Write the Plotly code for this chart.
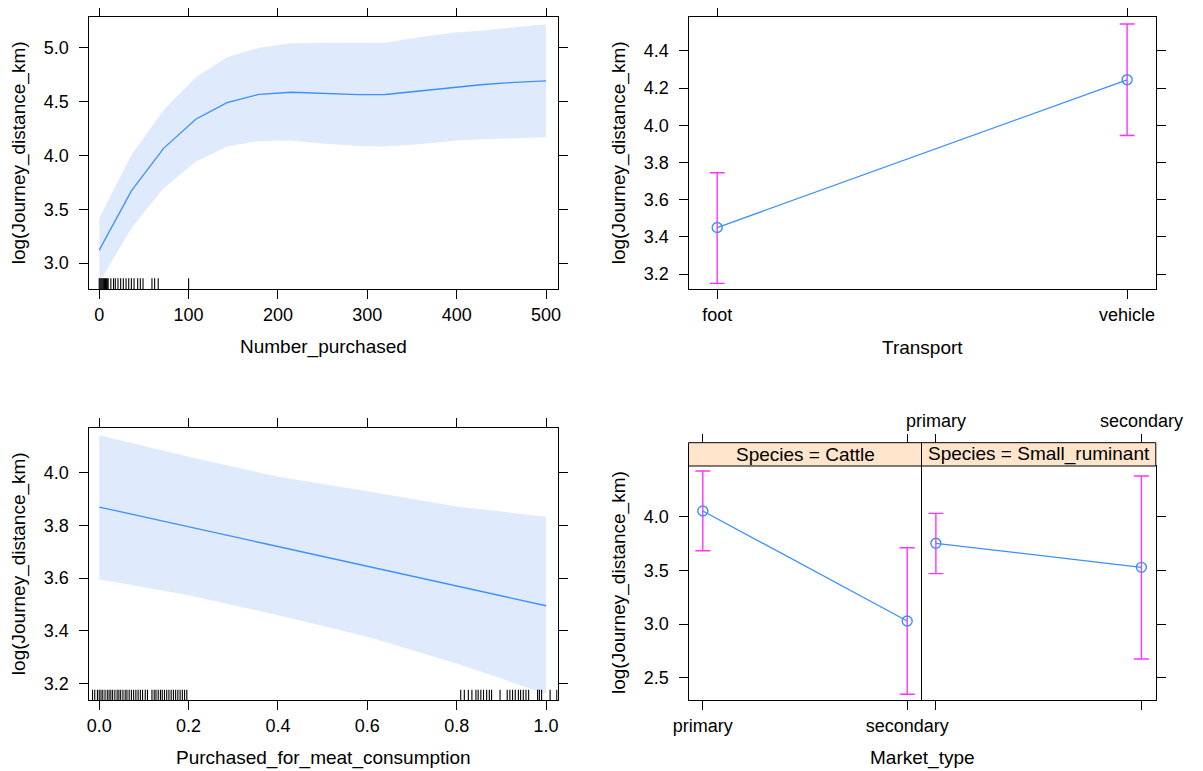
import plotly.graph_objects as go

# ---------------- data ----------------
# Panel 1: Number_purchased effect
num_x = [0, 36, 72, 108, 143, 179, 215, 250, 290, 320, 358, 400, 430, 465, 500]
num_fit = [3.12, 3.67, 4.065, 4.335, 4.49, 4.567, 4.586, 4.578, 4.563, 4.565, 4.598, 4.635, 4.658, 4.678, 4.692]
num_upper = [3.416, 4.004, 4.422, 4.725, 4.911, 5.0, 5.04, 5.04, 5.04, 5.046, 5.096, 5.143, 5.16, 5.19, 5.217]
num_lower = [2.82, 3.323, 3.695, 3.941, 4.081, 4.134, 4.137, 4.11, 4.087, 4.081, 4.103, 4.137, 4.15, 4.16, 4.168]
num_rug = [0, 1, 2, 3, 4, 5, 6, 7, 8, 9, 10, 13, 16, 18, 21, 24, 27, 30, 33, 36, 39, 43, 46, 49, 59, 62, 66, 100]
num_ticks = [0, 100, 200, 300, 400, 500]
num_yticks = [3.0, 3.5, 4.0, 4.5, 5.0]

# Panel 2: Transport effect
transport_levels = ["foot", "vehicle"]
transport_fit = [3.45, 4.245]
transport_lower = [3.15, 3.945]
transport_upper = [3.745, 4.545]
transport_yticks = [3.2, 3.4, 3.6, 3.8, 4.0, 4.2, 4.4]

# Panel 3: Purchased_for_meat_consumption effect
meat_x = [0.0, 0.2, 0.4, 0.6, 0.8, 1.0]
meat_fit = [3.87, 3.795, 3.72, 3.645, 3.57, 3.495]
meat_upper = [4.143, 4.061, 3.985, 3.93, 3.872, 3.833]
meat_lower = [3.596, 3.535, 3.459, 3.377, 3.276, 3.16]
meat_rug = [-0.015, -0.01, -0.004, 0.0, 0.004, 0.008, 0.013, 0.018, 0.022, 0.026, 0.03, 0.035,
            0.04, 0.044, 0.048, 0.053, 0.058, 0.062, 0.067, 0.072, 0.077, 0.082, 0.087, 0.092,
            0.097, 0.103, 0.108, 0.118, 0.123, 0.127, 0.132, 0.137, 0.141, 0.146, 0.151, 0.156,
            0.161, 0.166, 0.171, 0.176, 0.181, 0.186, 0.191, 0.196,
            0.809, 0.817, 0.826, 0.834, 0.843, 0.848, 0.854, 0.860, 0.867, 0.873, 0.878, 0.897,
            0.913, 0.919, 0.925, 0.931, 0.938, 0.943, 0.949, 0.955, 0.961, 0.981, 0.985, 0.990,
            1.009, 1.024]
meat_ticks = [0.0, 0.2, 0.4, 0.6, 0.8, 1.0]
meat_yticks = [3.2, 3.4, 3.6, 3.8, 4.0]

# Panel 4: Market_type x Species
market_levels = ["primary", "secondary"]
species_levels = ["Cattle", "Small_ruminant"]
cattle_fit = [4.053, 3.028]
cattle_lower = [3.683, 2.345]
cattle_upper = [4.426, 3.711]
small_fit = [3.752, 3.528]
small_lower = [3.469, 2.674]
small_upper = [4.031, 4.379]
market_yticks = [2.5, 3.0, 3.5, 4.0]

# ---------------- style ----------------
OFFX, OFFY = 8, 8            # page body margin in the browser
W, H = 1203 - OFFX, 771 - OFFY
FONT = "Liberation Sans, Arial, Helvetica, sans-serif"
TICK_SIZE = 18
TITLE_SIZE = 19
LINE_COL = "#3a90ff"
ERR_COL = "#ff33ff"
BAND_COL = "#e0eafd"
STRIP_COL = "#ffe5cc"


def px_x(p):
    return (p - OFFX) / W


def px_y(p):
    return 1 - (p - OFFY) / H


# panel pixel boxes (screen pixels)
TL = dict(x0=88.5, x1=557.7, y0=17.3, y1=289.3)
TR = dict(x0=688.5, x1=1155.8, y0=17.3, y1=289.3)
BL = dict(x0=88.5, x1=557.7, y0=428.3, y1=700.0)
BR_L = dict(x0=688.5, x1=921.5, y0=466.0, y1=700.0)
BR_R = dict(x0=921.5, x1=1155.8, y0=466.0, y1=700.0)
STRIP_TOP = 442.7

fig = go.Figure()

# ---- panel 1 ----
fig.add_trace(go.Scatter(x=num_x, y=num_lower, mode="lines", line=dict(width=0),
                         xaxis="x", yaxis="y", showlegend=False, hoverinfo="skip"))
fig.add_trace(go.Scatter(x=num_x, y=num_upper, mode="lines", line=dict(width=0), fill="tonexty",
                         fillcolor=BAND_COL, xaxis="x", yaxis="y", showlegend=False, hoverinfo="skip"))
fig.add_trace(go.Scatter(x=num_x, y=num_fit, mode="lines", line=dict(color=LINE_COL, width=1.3),
                         xaxis="x", yaxis="y", showlegend=False))

# ---- panel 2 ----
t_idx = list(range(len(transport_levels)))
fig.add_trace(go.Scatter(
    x=t_idx, y=transport_fit, mode="markers", marker=dict(opacity=0),
    error_y=dict(type="data", symmetric=False,
                 array=[u - f for u, f in zip(transport_upper, transport_fit)],
                 arrayminus=[f - l for f, l in zip(transport_fit, transport_lower)],
                 color=ERR_COL, thickness=1.4, width=7.5),
    xaxis="x2", yaxis="y2", showlegend=False))
fig.add_trace(go.Scatter(x=t_idx, y=transport_fit, mode="lines+markers",
                         line=dict(color=LINE_COL, width=1.3),
                         marker=dict(symbol="circle-open", size=10, color=LINE_COL, line=dict(width=1.4)),
                         xaxis="x2", yaxis="y2", showlegend=False))

# ---- panel 3 ----
fig.add_trace(go.Scatter(x=meat_x, y=meat_lower, mode="lines", line=dict(width=0),
                         xaxis="x3", yaxis="y3", showlegend=False, hoverinfo="skip"))
fig.add_trace(go.Scatter(x=meat_x, y=meat_upper, mode="lines", line=dict(width=0), fill="tonexty",
                         fillcolor=BAND_COL, xaxis="x3", yaxis="y3", showlegend=False, hoverinfo="skip"))
fig.add_trace(go.Scatter(x=meat_x, y=meat_fit, mode="lines", line=dict(color=LINE_COL, width=1.3),
                         xaxis="x3", yaxis="y3", showlegend=False))

# ---- panel 4 ----
m_idx = list(range(len(market_levels)))
for fit, lo, up, xa, ya in [(cattle_fit, cattle_lower, cattle_upper, "x4", "y4"),
                            (small_fit, small_lower, small_upper, "x5", "y5")]:
    fig.add_trace(go.Scatter(
        x=m_idx, y=fit, mode="markers", marker=dict(opacity=0),
        error_y=dict(type="data", symmetric=False,
                     array=[u - f for u, f in zip(up, fit)],
                     arrayminus=[f - l for f, l in zip(fit, lo)],
                     color=ERR_COL, thickness=1.4, width=7.5),
        xaxis=xa, yaxis=ya, showlegend=False))
    fig.add_trace(go.Scatter(x=m_idx, y=fit, mode="lines+markers",
                             line=dict(color=LINE_COL, width=1.3),
                             marker=dict(symbol="circle-open", size=10, color=LINE_COL, line=dict(width=1.4)),
                             xaxis=xa, yaxis=ya, showlegend=False))
# dummy traces to activate the top (alternating) axes
fig.add_trace(go.Scatter(x=[None], y=[None], xaxis="x6", yaxis="y4", showlegend=False, hoverinfo="skip"))
fig.add_trace(go.Scatter(x=[None], y=[None], xaxis="x7", yaxis="y5", showlegend=False, hoverinfo="skip"))

# ---- axes ----
tickfont = dict(family=FONT, size=TICK_SIZE, color="black")
base = dict(showgrid=False, zeroline=False, showline=True, linecolor="black", linewidth=1,
            ticks="outside", ticklen=9, tickwidth=1, tickcolor="black", tickfont=tickfont,
            mirror="ticks", fixedrange=True, automargin=False)


def fmt(vals, nd=1):
    return [f"{v:.{nd}f}" for v in vals]


layout_axes = dict(
    xaxis=dict(base, domain=[px_x(TL["x0"]), px_x(TL["x1"])], range=[-12, 513], anchor="y",
               tickvals=num_ticks, ticktext=[str(v) for v in num_ticks]),
    yaxis=dict(base, domain=[px_y(TL["y1"]), px_y(TL["y0"])], range=[2.756, 5.282], anchor="x",
               tickvals=num_yticks, ticktext=fmt(num_yticks), ticklabelstandoff=6),
    xaxis2=dict(base, domain=[px_x(TR["x0"]), px_x(TR["x1"])], range=[-0.07, 1.07], anchor="y2",
                tickvals=t_idx, ticktext=transport_levels),
    yaxis2=dict(base, domain=[px_y(TR["y1"]), px_y(TR["y0"])], range=[3.118, 4.581], anchor="x2",
                tickvals=transport_yticks, ticktext=fmt(transport_yticks), ticklabelstandoff=6),
    xaxis3=dict(base, domain=[px_x(BL["x0"]), px_x(BL["x1"])], range=[-0.024, 1.026], anchor="y3",
                tickvals=meat_ticks, ticktext=fmt(meat_ticks)),
    yaxis3=dict(base, domain=[px_y(BL["y1"]), px_y(BL["y0"])], range=[3.137, 4.169], anchor="x3",
                tickvals=meat_yticks, ticktext=fmt(meat_yticks), ticklabelstandoff=6),
    xaxis4=dict(base, domain=[px_x(BR_L["x0"]), px_x(BR_L["x1"])], range=[-0.07, 1.07], anchor="y4",
                tickvals=m_idx, ticktext=market_levels, mirror=True),
    yaxis4=dict(base, domain=[px_y(BR_L["y1"]), px_y(BR_L["y0"])], range=[2.292, 4.472], anchor="x4",
                tickvals=market_yticks, ticktext=fmt(market_yticks), mirror=False, ticklabelstandoff=6),
    xaxis5=dict(base, domain=[px_x(BR_R["x0"]), px_x(BR_R["x1"])], range=[-0.07, 1.07], anchor="y5",
                tickvals=m_idx, showticklabels=False, mirror=True),
    yaxis5=dict(base, domain=[px_y(BR_R["y1"]), px_y(BR_R["y0"])], range=[2.292, 4.472], anchor="x5",
                side="right", tickvals=market_yticks, showticklabels=False, mirror=True),
    xaxis6=dict(base, domain=[px_x(BR_L["x0"]), px_x(BR_L["x1"])], range=[-0.07, 1.07],
                overlaying="x4", side="top", anchor="free", position=px_y(STRIP_TOP),
                showline=False, mirror=False, tickvals=m_idx, showticklabels=False),
    xaxis7=dict(base, domain=[px_x(BR_R["x0"]), px_x(BR_R["x1"])], range=[-0.07, 1.07],
                overlaying="x5", side="top", anchor="free", position=px_y(STRIP_TOP),
                showline=False, mirror=False, tickvals=m_idx, ticktext=market_levels),
)

shapes = []
# rugs
for v in num_rug:
    shapes.append(dict(type="line", xref="x", yref="y domain", x0=v, x1=v, y0=0, y1=0.041,
                       line=dict(color="black", width=1.1), layer="above"))
for v in meat_rug:
    shapes.append(dict(type="line", xref="x3", yref="y3 domain", x0=v, x1=v, y0=0, y1=0.038,
                       line=dict(color="black", width=1.1), layer="above"))
# strips
for box in (BR_L, BR_R):
    shapes.append(dict(type="rect", xref="paper", yref="paper",
                       x0=px_x(box["x0"]), x1=px_x(box["x1"]),
                       y0=px_y(box["y0"]), y1=px_y(STRIP_TOP),
                       fillcolor=STRIP_COL, line=dict(color="black", width=1), layer="above"))

titlefont = dict(family=FONT, size=TITLE_SIZE, color="black")
annotations = []


def add_title(text, xpx, ypx, angle=0):
    annotations.append(dict(text=text, xref="paper", yref="paper", x=px_x(xpx), y=px_y(ypx),
                            showarrow=False, textangle=angle, font=titlefont,
                            xanchor="center", yanchor="middle"))


ylab = "log(Journey_distance_km)"
add_title("Number_purchased", (TL["x0"] + TL["x1"]) / 2, 347)
add_title("Transport", (TR["x0"] + TR["x1"]) / 2, 347)
add_title("Purchased_for_meat_consumption", (BL["x0"] + BL["x1"]) / 2, 758)
add_title("Market_type", (BR_L["x0"] + BR_R["x1"]) / 2, 758)
add_title(ylab, 19, (TL["y0"] + TL["y1"]) / 2, -90)
add_title(ylab, 619, (TR["y0"] + TR["y1"]) / 2, -90)
add_title(ylab, 19, (BL["y0"] + BL["y1"]) / 2, -90)
add_title(ylab, 619, (BR_L["y0"] + BR_L["y1"]) / 2, -90)
for sp, box in zip(species_levels, (BR_L, BR_R)):
    add_title(f"Species = {sp}", (box["x0"] + box["x1"]) / 2, (STRIP_TOP + box["y0"]) / 2)

fig.update_layout(
    width=W, height=H, margin=dict(l=0, r=0, t=0, b=0, autoexpand=False),
    plot_bgcolor="white", paper_bgcolor="white",
    font=dict(family=FONT, color="black"),
    shapes=shapes, annotations=annotations, showlegend=False,
    **layout_axes,
)

fig.write_html("out.html")
